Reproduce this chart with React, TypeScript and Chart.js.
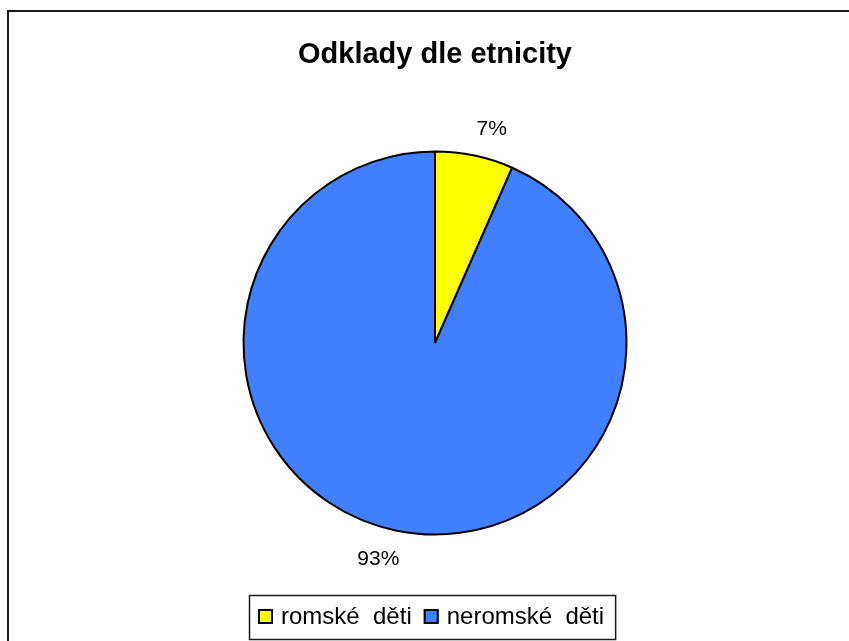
import React, { useEffect, useRef } from "react";
import { Chart, registerables } from "chart.js";

Chart.register(...registerables);

const TITLE = "Odklady dle etnicity";
const categories = ["romské  děti", "neromské  děti"];
const values = [6.6, 93.4];
const colors = ["#ffff00", "#4080ff"];

const FONT = "'Liberation Sans', Arial, sans-serif";

const framePlugin = {
  id: "frame",
  beforeDraw(chart: any) {
    const ctx = chart.ctx;
    ctx.save();
    ctx.fillStyle = "#ffffff";
    ctx.fillRect(0, 0, chart.width, chart.height);
    ctx.fillStyle = "#1a1a1a";
    ctx.fillRect(7, 10, 2, chart.height - 10);
    ctx.fillRect(7, 10, chart.width - 7, 2);
    ctx.restore();
  },
};

const pctLabelsPlugin = {
  id: "pctLabels",
  afterDatasetsDraw(chart: any) {
    const ctx = chart.ctx;
    const meta = chart.getDatasetMeta(0);
    const data = chart.data.datasets[0].data as number[];
    const total = data.reduce((a, b) => a + b, 0);
    ctx.save();
    ctx.font = `21px ${FONT}`;
    ctx.fillStyle = "#000";
    ctx.textAlign = "center";
    ctx.textBaseline = "middle";
    meta.data.forEach((arc: any, i: number) => {
      const { x, y, startAngle, endAngle, outerRadius } = arc.getProps(
        ["x", "y", "startAngle", "endAngle", "outerRadius"],
        true
      );
      const mid = (startAngle + endAngle) / 2 + 0.05;
      const r = outerRadius + 31;
      ctx.fillText(
        `${Math.round((data[i] / total) * 100)}%`,
        x + Math.cos(mid) * r,
        y + Math.sin(mid) * r + 1
      );
    });
    ctx.restore();
  },
};

const boxLegendPlugin = {
  id: "boxLegend",
  afterDraw(chart: any) {
    const ctx = chart.ctx;
    const labels = chart.data.labels as string[];
    const bg = chart.data.datasets[0].backgroundColor as string[];
    ctx.save();
    ctx.font = `24px ${FONT}`;
    const box = 15;
    const gapBox = 8;
    const gapItem = 12;
    const padL = 9;
    const padR = 11;
    const widths = labels.map((l) => ctx.measureText(l).width);
    const totalW =
      padL +
      padR +
      widths.reduce((a, b) => a + b, 0) +
      labels.length * (box + gapBox) +
      gapItem * (labels.length - 1);
    const cx = 432;
    const left = Math.round(cx - totalW / 2);
    const top = 595;
    const height = 44;
    ctx.strokeStyle = "#1a1a1a";
    ctx.lineWidth = 1.5;
    ctx.strokeRect(left + 0.5, top + 0.5, totalW, height);
    let xPos = left + padL;
    const baseline = 624;
    labels.forEach((l, i) => {
      ctx.fillStyle = bg[i];
      ctx.fillRect(xPos, 609, box, box);
      ctx.strokeStyle = "#000";
      ctx.lineWidth = 2;
      ctx.strokeRect(xPos + 1, 610, box - 2, box - 2);
      xPos += box + gapBox;
      ctx.fillStyle = "#000";
      ctx.textAlign = "left";
      ctx.textBaseline = "alphabetic";
      ctx.fillText(l, xPos, baseline);
      xPos += widths[i] + gapItem;
    });
    ctx.restore();
  },
};

export default function App() {
  const canvasRef = useRef<HTMLCanvasElement | null>(null);

  useEffect(() => {
    if (!canvasRef.current) return;
    const chart = new Chart(canvasRef.current, {
      type: "pie",
      data: {
        labels: categories,
        datasets: [
          {
            data: values,
            backgroundColor: colors,
            borderColor: "#000000",
            borderWidth: 2,
          },
        ],
      },
      options: {
        responsive: false,
        animation: false,
        radius: 191.5,
        layout: { padding: { left: 121, right: 100, top: 0, bottom: 55 } },
        plugins: {
          legend: { display: false },
          tooltip: { enabled: false },
          title: {
            display: true,
            text: TITLE,
            color: "#000",
            font: { family: FONT, size: 29, weight: "bold", lineHeight: 1.2 },
            padding: { top: 38, bottom: 27.2 },
          },
        },
      } as any,
      plugins: [framePlugin, pctLabelsPlugin, boxLegendPlugin],
    });
    return () => chart.destroy();
  }, []);

  return (
    <div
      style={{
        position: "fixed",
        left: 0,
        top: 0,
        width: 849,
        height: 641,
        background: "#fff",
      }}
    >
      <canvas ref={canvasRef} width={849} height={641} />
    </div>
  );
}
